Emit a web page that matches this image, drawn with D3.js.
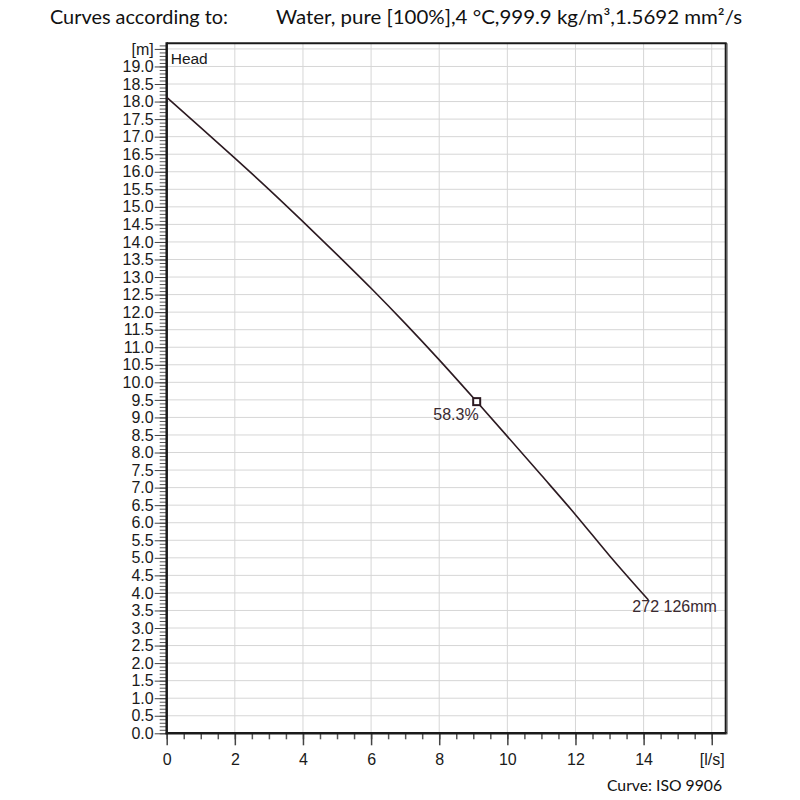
<!DOCTYPE html>
<html>
<head>
<meta charset="utf-8">
<script src="https://cdn.jsdelivr.net/npm/d3@7"></script>
<style>
  body { margin: 0; background: #fff; }
  svg text { font-family: "Liberation Sans", Arial, sans-serif; }
  svg text.title { font-family: Lato, "Open Sans", sans-serif; }
</style>
</head>
<body>
<svg id="chart"></svg>
<script>
// pump curve
const flow = [0, 1, 2, 3, 4, 5, 6, 7, 8, 9, 10, 11, 12, 13, 14.14];
const head = [18.12, 17.26, 16.39, 15.5, 14.58, 13.64, 12.68, 11.68, 10.64, 9.56, 8.46, 7.35, 6.23, 5.06, 3.8];
const bepFlow = 9.1;
const bepHead = 9.45;
const bepLabel = "58.3%";
const curveLabel = "272 126mm";

const xMajor = [0, 2, 4, 6, 8, 10, 12, 14, 16];
const xLabels = ["0", "2", "4", "6", "8", "10", "12", "14", "[l/s]"];
const yMajor = d3.range(0, 40).map(i => i * 0.5);   // 0.0 .. 19.5
const yLabels = yMajor.map(v => v === 19.5 ? "[m]" : v.toFixed(1));

const titleLeft = "Curves according to:";
const titleRight = "Water, pure [100%],4 °C,999.9 kg/m³,1.5692 mm²/s";
const footer = "Curve: ISO 9906";

const config = {
  width: 800, height: 800,
  left: 166.7, right: 725.7, top: 43.3, bottom: 733.3,
  xMax: 16.41, yMax: 19.66
};

const svg = d3.select("#chart")
  .attr("width", config.width)
  .attr("height", config.height);

const x = d3.scaleLinear().domain([0, config.xMax]).range([config.left, config.right]);
const y = d3.scaleLinear().domain([0, config.yMax]).range([config.bottom, config.top]);

// gridlines
const grid = svg.append("g").attr("stroke", "#d6d6d6").attr("stroke-width", 1);
grid.selectAll(".gx").data(xMajor.slice(1)).join("line")
  .attr("x1", d => x(d)).attr("x2", d => x(d))
  .attr("y1", config.top).attr("y2", config.bottom);
grid.selectAll(".gy").data(yMajor.slice(1)).join("line")
  .attr("x1", config.left).attr("x2", config.right)
  .attr("y1", d => y(d)).attr("y2", d => y(d));

// frame top / right
svg.append("line")
  .attr("x1", config.left).attr("x2", config.right + 1)
  .attr("y1", config.top).attr("y2", config.top)
  .attr("stroke", "#1a1a1a").attr("stroke-width", 2);
svg.append("line")
  .attr("x1", config.right).attr("x2", config.right)
  .attr("y1", config.top).attr("y2", config.bottom)
  .attr("stroke", "#1a1a1a").attr("stroke-width", 2);
svg.append("line")
  .attr("x1", config.right + 1.8).attr("x2", config.right + 1.8)
  .attr("y1", config.top).attr("y2", config.bottom + 1)
  .attr("stroke", "#9a9a9a").attr("stroke-width", 1);

// y axis minor + major
const yMinor = d3.range(0, 197).map(i => i / 10).filter(v => v <= config.yMax);
const yMinorAxis = d3.axisLeft(y).tickValues(yMinor).tickSize(7).tickFormat("");
const yAxis = d3.axisLeft(y).tickValues(yMajor).tickSize(12).tickPadding(1)
  .tickFormat((d, i) => yLabels[i]);

const yMinorG = svg.append("g").attr("transform", `translate(${config.left},0)`).call(yMinorAxis);
yMinorG.select(".domain").remove();
yMinorG.selectAll("line").attr("stroke", "#555");

const yG = svg.append("g").attr("transform", `translate(${config.left},0)`).call(yAxis);
yG.select(".domain").remove();
yG.selectAll("line").attr("stroke", "#444");
yG.selectAll("text").attr("font-size", 16).attr("fill", "#1a1a1a");

// x axis minor + major
const xMinor = d3.range(0, 33).map(i => i * 0.5);
const xMinorAxis = d3.axisBottom(x).tickValues(xMinor).tickSize(6).tickFormat("");
const xAxis = d3.axisBottom(x).tickValues(xMajor).tickSize(12).tickPadding(8)
  .tickFormat((d, i) => xLabels[i]);

const xMinorG = svg.append("g").attr("transform", `translate(0,${config.bottom})`).call(xMinorAxis);
xMinorG.select(".domain").remove();
xMinorG.selectAll("line").attr("stroke", "#555").attr("stroke-width", 1.5);

const xG = svg.append("g").attr("transform", `translate(0,${config.bottom})`).call(xAxis);
xG.select(".domain").remove();
xG.selectAll("line").attr("stroke", "#444").attr("stroke-width", 1.5);
xG.selectAll("text").attr("font-size", 16).attr("fill", "#1a1a1a");

// axis lines (left, bottom)
svg.append("line")
  .attr("x1", config.left).attr("x2", config.left)
  .attr("y1", config.top - 1).attr("y2", config.bottom + 1)
  .attr("stroke", "#1a1a1a").attr("stroke-width", 2.5);
svg.append("line")
  .attr("x1", config.left - 1).attr("x2", config.right + 1)
  .attr("y1", config.bottom).attr("y2", config.bottom)
  .attr("stroke", "#1a1a1a").attr("stroke-width", 2.5);

// curve
const pts = flow.map((f, i) => [f, head[i]]);
const line = d3.line().x(d => x(d[0])).y(d => y(d[1])).curve(d3.curveMonotoneX);
svg.append("path")
  .datum(pts)
  .attr("d", line)
  .attr("fill", "none")
  .attr("stroke", "#2c1a21")
  .attr("stroke-width", 1.6);

// best efficiency marker
svg.append("rect")
  .attr("x", x(bepFlow) - 3.5).attr("y", y(bepHead) - 3.5)
  .attr("width", 7).attr("height", 7)
  .attr("fill", "#fff").attr("stroke", "#2c1a21").attr("stroke-width", 2);
svg.append("text")
  .attr("x", x(bepFlow) + 2).attr("y", y(bepHead) + 18)
  .attr("text-anchor", "end")
  .attr("font-size", 16).attr("fill", "#3a2a30")
  .text(bepLabel);

// curve end label
const last = pts[pts.length - 1];
svg.append("text")
  .attr("x", x(last[0]) - 16).attr("y", y(last[1]) + 12)
  .attr("font-size", 16).attr("fill", "#3a2a30")
  .text(curveLabel);

// chart label
svg.append("text")
  .attr("x", config.left + 4).attr("y", 64)
  .attr("font-size", 15.5).attr("fill", "#1a1a1a")
  .text("Head");

// titles
svg.append("text")
  .attr("class", "title")
  .attr("x", 50).attr("y", 24)
  .attr("font-size", 19).attr("fill", "#111")
  .attr("textLength", 178).attr("lengthAdjust", "spacingAndGlyphs")
  .text(titleLeft);
svg.append("text")
  .attr("class", "title")
  .attr("x", 276).attr("y", 24)
  .attr("font-size", 19).attr("fill", "#111")
  .attr("textLength", 466).attr("lengthAdjust", "spacingAndGlyphs")
  .text(titleRight);
svg.append("text")
  .attr("class", "title")
  .attr("x", 722).attr("y", 791)
  .attr("text-anchor", "end")
  .attr("font-size", 15).attr("fill", "#111")
  .attr("textLength", 115).attr("lengthAdjust", "spacingAndGlyphs")
  .text(footer);
</script>
</body>
</html>
